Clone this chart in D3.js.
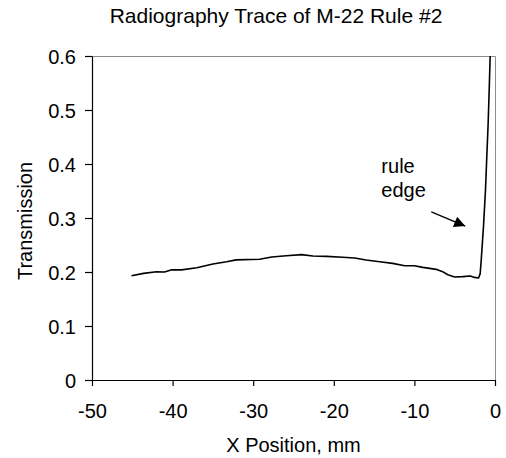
<!DOCTYPE html>
<html>
<head>
<meta charset="utf-8">
<script src="https://cdn.jsdelivr.net/npm/d3@7"></script>
<style>
  body { margin: 0; background: #fff; }
  svg { display: block; }
  text { font-family: Arial, "Liberation Sans", sans-serif; fill: #000; }
</style>
</head>
<body>
<script>
// trace: x position (mm) and transmission
let xPos = [-45.1, -43.6, -42.0, -41.0, -40.1, -38.9, -37.0, -35.0, -33.3, -32.1,
  -29.2, -27.7, -25.9, -24.0, -22.6, -20.9, -18.9, -17.4, -16.0, -14.3,
  -12.7, -11.2, -10.0, -8.95, -7.3, -6.5, -5.85, -5.0, -4.0, -3.07,
  -2.54, -2.04, -1.84, -1.71, -1.43, -1.18, -1.02, -0.85, -0.72, -0.6];
let trans = [0.193, 0.1975, 0.2006, 0.200, 0.204, 0.204, 0.208, 0.2148, 0.219, 0.2225,
  0.2235, 0.2278, 0.2302, 0.2321, 0.2296, 0.229, 0.2272, 0.226, 0.2222, 0.219,
  0.216, 0.2117, 0.2117, 0.2086, 0.2049, 0.2006, 0.195, 0.1907, 0.1914, 0.1926,
  0.190, 0.1889, 0.197, 0.222, 0.284, 0.352, 0.413, 0.475, 0.537, 0.600];

let xTicks = [-50, -40, -30, -20, -10, 0];
let yTicks = [0, 0.1, 0.2, 0.3, 0.4, 0.5, 0.6];

let title = 'Radiography Trace of M-22 Rule #2';
let xTitle = 'X Position, mm';
let yTitle = 'Transmission';
let noteLines = ['rule', 'edge'];
// arrow from -> to, in data units
let arrowFrom = { x: -7.9, y: 0.3115 };
let arrowTo = { x: -3.7, y: 0.285 };

let W = 506, H = 458;
let pLeft = 92, pTop = 56, pRight = 495, pBottom = 380;

let svg = d3.select('body')
  .append('svg')
  .attr('width', W)
  .attr('height', H);

let x = d3.scaleLinear().domain([-50, 0]).range([pLeft, pRight]);
let y = d3.scaleLinear().domain([0, 0.6]).range([pBottom, pTop]);

// grey plot frame on top and right
svg.append('path')
  .attr('d', 'M' + pLeft + ',' + (pTop + 0.5) + 'H' + (pRight + 0.5) + 'V' + pBottom)
  .attr('fill', 'none')
  .attr('stroke', '#8c8c8c')
  .attr('stroke-width', 1);

// y axis
let yAxis = svg.append('g')
  .attr('transform', 'translate(' + pLeft + ',0)')
  .call(d3.axisLeft(y).tickValues(yTicks).tickSizeInner(7).tickSizeOuter(0).tickPadding(9)
    .tickFormat(d => d === 0 ? '0' : d3.format('.1f')(d)));
yAxis.selectAll('text').attr('font-size', 20).attr('dy', '0.37em')
  .style('font-family', 'Arial, "Liberation Sans", sans-serif');

// x axis, plain hyphen for the minus sign like the original
let xAxis = svg.append('g')
  .attr('transform', 'translate(0,' + pBottom + ')')
  .call(d3.axisBottom(x).tickValues(xTicks).tickSizeInner(6).tickSizeOuter(0).tickPadding(18)
    .tickFormat(d => String(d)));
xAxis.selectAll('text').attr('font-size', 20)
  .style('font-family', 'Arial, "Liberation Sans", sans-serif');

svg.selectAll('.domain, .tick line').attr('stroke', '#000').attr('stroke-width', 1.2);

// clip for the trace
svg.append('clipPath').attr('id', 'plotClip')
  .append('rect')
  .attr('x', pLeft).attr('y', pTop)
  .attr('width', pRight - pLeft).attr('height', pBottom - pTop);

let line = d3.line()
  .x((d, i) => x(xPos[i]))
  .y((d, i) => y(trans[i]))
  .curve(d3.curveLinear);

svg.append('path')
  .attr('clip-path', 'url(#plotClip)')
  .attr('fill', 'none')
  .attr('stroke', '#000')
  .attr('stroke-width', 1.6)
  .attr('stroke-linejoin', 'round')
  .attr('d', line(xPos));

// annotation
svg.selectAll('text.note')
  .data(noteLines)
  .enter()
  .append('text')
  .attr('class', 'note')
  .attr('x', x(-14.1))
  .attr('y', (d, i) => y(0.383) + i * 24)
  .attr('font-size', 20)
  .text(d => d);

svg.append('defs').append('marker')
  .attr('id', 'arrowHead')
  .attr('viewBox', '0 0 10 10')
  .attr('refX', 10).attr('refY', 5)
  .attr('markerUnits', 'userSpaceOnUse')
  .attr('markerWidth', 15).attr('markerHeight', 11)
  .attr('orient', 'auto')
  .append('path')
  .attr('d', 'M0,0L10,5L0,10Z')
  .attr('fill', '#000');

svg.append('line')
  .attr('x1', x(arrowFrom.x)).attr('y1', y(arrowFrom.y))
  .attr('x2', x(arrowTo.x)).attr('y2', y(arrowTo.y))
  .attr('stroke', '#000')
  .attr('stroke-width', 1.3)
  .attr('marker-end', 'url(#arrowHead)');

// titles
svg.append('text')
  .attr('x', 276).attr('y', 23)
  .attr('text-anchor', 'middle')
  .attr('font-size', 21)
  .text(title);

svg.append('text')
  .attr('x', (pLeft + pRight) / 2).attr('y', 452)
  .attr('text-anchor', 'middle')
  .attr('font-size', 20)
  .text(xTitle);

svg.append('text')
  .attr('transform', 'translate(32,' + ((pTop + pBottom) / 2 + 3) + ') rotate(-90)')
  .attr('text-anchor', 'middle')
  .attr('font-size', 20)
  .text(yTitle);
</script>
</body>
</html>
